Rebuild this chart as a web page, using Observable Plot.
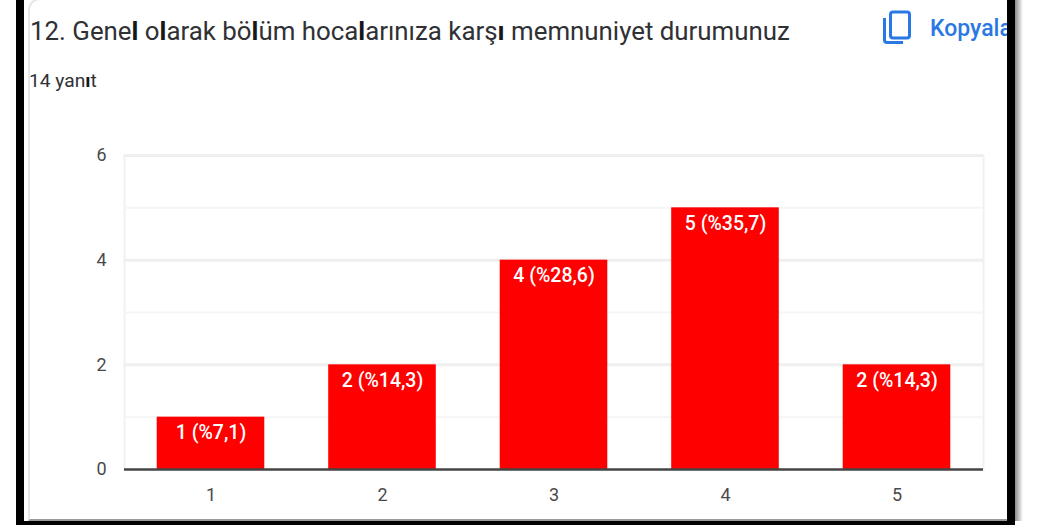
<!DOCTYPE html>
<html><head><meta charset="utf-8">
<script src="https://cdn.jsdelivr.net/npm/d3@7"></script>
<script src="https://cdn.jsdelivr.net/npm/@observablehq/plot@0.6"></script>
<style>
html,body{margin:0;padding:0;background:#fff;overflow:hidden}
#page{position:relative;width:1045px;height:525px;overflow:hidden;font-family:Roboto,sans-serif}
.abs{position:absolute}
#chart{position:absolute;left:0;top:120px}
#title{left:30px;top:15px;font-size:25.85px;line-height:32px;color:#2f3134;white-space:nowrap}
#sub{left:29px;top:71px;font-size:19.2px;line-height:20px;color:#2f3134;white-space:nowrap}
#title b,#sub b{font-weight:700;color:#16171a}
#copy{left:930px;top:15px;font-size:23px;line-height:28px;color:#2a78e4;font-weight:500;white-space:nowrap;width:77px;overflow:hidden}
</style></head><body>
<div id="page">
  <div class="abs" style="left:28px;top:-2px;width:990px;height:523px;border:2px solid #e6e7ea;border-right:none;border-bottom-color:#9a9a9a;border-radius:12px 0 0 0;box-sizing:border-box"></div>
  <div id="chart"></div>
  <div id="title" class="abs">12. Gene<b>l</b> o<b>l</b>arak bö<b>l</b>üm hoca<b>l</b>arınıza karş<b>ı</b> memnuniyet durumunuz</div>
  <div id="sub" class="abs">14 yan<b>ı</b>t</div>
  <svg class="abs" style="left:882px;top:10px" width="30" height="36" viewBox="0 0 30 36">
    <rect x="8.5" y="2" width="19" height="26" rx="2.5" fill="none" stroke="#2a78e4" stroke-width="3"/>
    <path d="M2.5 8 V30 a2.5 2.5 0 0 0 2.5 2.5 H21" fill="none" stroke="#2a78e4" stroke-width="3"/>
  </svg>
  <div id="copy" class="abs">Kopyala</div>
  <div class="abs" style="left:1015px;top:0;width:8px;height:521px;background:linear-gradient(to right,#8a8a8a,#fff)"></div>
  <div class="abs" style="left:16px;top:0;width:8px;height:525px;background:#000"></div>
  <div class="abs" style="left:1007px;top:0;width:8px;height:525px;background:#000"></div>
  <div class="abs" style="left:16px;top:521px;width:999px;height:4px;background:#000"></div>
</div>
<script>
const categories = ["1", "2", "3", "4", "5"];
const counts = [1, 2, 4, 5, 2];
const valueLabels = ["1 (%7,1)", "2 (%14,3)", "4 (%28,6)", "5 (%35,7)", "2 (%14,3)"];
const majorTicks = [2, 4, 6];
const minorTicks = [1, 3, 5];
const yTicks = [0, 2, 4, 6];

const rows = categories.map((c, i) => ({c, n: counts[i], label: valueLabels[i]}));

const chart = Plot.plot({
  width: 1045,
  height: 405,
  marginTop: 35,
  marginBottom: 56,
  marginLeft: 124,
  marginRight: 62,
  style: {background: "transparent", fontFamily: "Roboto, sans-serif", fontSize: "18px", overflow: "visible"},
  x: {domain: categories, range: [124.75, 982.25], round: false, paddingInner: 0.3727, paddingOuter: 0.18635, label: null},
  y: {domain: [0, 6], label: null},
  marks: [
    Plot.frame({anchor: "left", stroke: "#f1f1f1", strokeWidth: 2}),
    Plot.frame({anchor: "right", stroke: "#f1f1f1", strokeWidth: 2}),
    Plot.ruleY(minorTicks, {stroke: "#f5f5f5", strokeWidth: 2}),
    Plot.ruleY(majorTicks, {stroke: "#efefef", strokeWidth: 3}),
    Plot.axisX({tickSize: 0, tickPadding: 19, color: "#4a4a4a", fontSize: 18, label: null}),
    Plot.axisY({ticks: yTicks, tickFormat: "d", tickSize: 0, tickPadding: 18, color: "#4a4a4a", fontSize: 18, label: null}),
    Plot.barY(rows, {x: "c", y: "n", fill: "#ff0000"}),
    Plot.ruleY([0], {stroke: "#444", strokeWidth: 2.5}),
    Plot.text(rows, {x: "c", y: "n", text: "label", fill: "#fff", dy: 16, fontSize: 19.5, fontWeight: 500})
  ]
});
document.getElementById("chart").appendChild(chart);
</script>
</body></html>
